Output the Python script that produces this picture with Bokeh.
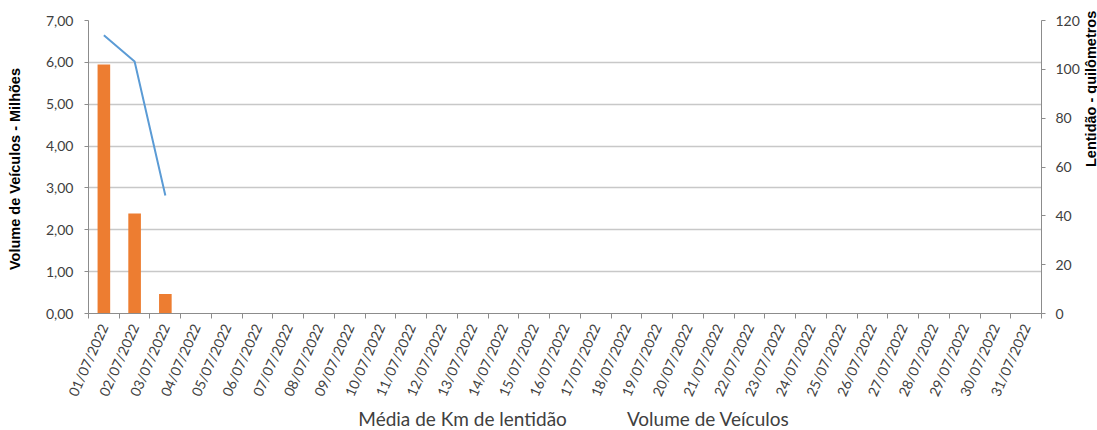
import math
from bokeh.plotting import figure
from bokeh.layouts import column
from bokeh.models import (FactorRange, Range1d, LinearAxis, FixedTicker,
                          CustomJSTickFormatter, Legend, LegendItem)
from bokeh.embed import file_html
from bokeh.resources import INLINE

# ---- data ----
datas = ["01/07/2022", "02/07/2022", "03/07/2022", "04/07/2022", "05/07/2022",
         "06/07/2022", "07/07/2022", "08/07/2022", "09/07/2022", "10/07/2022",
         "11/07/2022", "12/07/2022", "13/07/2022", "14/07/2022", "15/07/2022",
         "16/07/2022", "17/07/2022", "18/07/2022", "19/07/2022", "20/07/2022",
         "21/07/2022", "22/07/2022", "23/07/2022", "24/07/2022", "25/07/2022",
         "26/07/2022", "27/07/2022", "28/07/2022", "29/07/2022", "30/07/2022",
         "31/07/2022"]
dias_com_dados = ["01/07/2022", "02/07/2022", "03/07/2022"]
lentidao_km = [102, 41, 8]              # Média de Km de lentidão (eixo direito)
volume_milhoes = [6.65, 6.02, 2.82]     # Volume de Veículos (eixo esquerdo)
ticks_esq = [0, 1, 2, 3, 4, 5, 6, 7]
ticks_dir = [0, 20, 40, 60, 80, 100, 120]
serie_barras = "Média de Km de lentidão"
serie_linha = "Volume de Veículos"

LARANJA = "#ED7D31"
AZUL = "#5B9BD5"
TXT = "#404040"
FONT = "Lato"
TITLE_FONT = "Liberation Sans"

p = figure(frame_width=953, frame_height=293,
           x_range=FactorRange(factors=datas),
           y_range=Range1d(0, 7),
           x_axis_type=None,
           output_backend="svg", toolbar_location=None,
           min_border_left=88, min_border_right=56,
           min_border_top=20, min_border_bottom=0)
p.outline_line_color = None
p.background_fill_color = "white"

# left axis
ya = p.yaxis[0]
ya.ticker = FixedTicker(ticks=ticks_esq)
ya.formatter = CustomJSTickFormatter(code="return tick.toFixed(2).replace('.', ',');")
ya.axis_label = "Volume de Veículos  - Milhões"
ya.axis_label_text_font = TITLE_FONT
ya.axis_label_text_font_style = "bold"
ya.axis_label_text_font_size = "14.5px"
ya.axis_label_text_color = "black"
ya.axis_label_standoff = 20
ya.major_label_text_font = FONT
ya.major_label_text_font_size = "14px"
ya.major_label_text_color = TXT
ya.major_label_standoff = 11
ya.axis_line_color = "#8C8C8C"
ya.major_tick_line_color = "#8C8C8C"
ya.major_tick_out = 4
ya.major_tick_in = 0
ya.minor_tick_line_color = None

p.ygrid.grid_line_color = "#C8C8C8"
p.ygrid.grid_line_width = 1.5

# right axis
p.extra_y_ranges = {"km": Range1d(0, 120)}
ra = LinearAxis(y_range_name="km", ticker=FixedTicker(ticks=ticks_dir))
ra.axis_label = "Lentidão - quilômetros"
ra.axis_label_text_font = TITLE_FONT
ra.axis_label_text_font_style = "bold"
ra.axis_label_text_font_size = "14.5px"
ra.axis_label_text_color = "black"
ra.axis_label_standoff = 8
ra.major_label_text_font = FONT
ra.major_label_text_font_size = "14px"
ra.major_label_text_color = TXT
ra.major_label_standoff = 10
ra.axis_line_color = "#8C8C8C"
ra.major_tick_line_color = "#8C8C8C"
ra.major_tick_out = 4
ra.major_tick_in = 0
ra.minor_tick_line_color = None
ra.axis_label_orientation = math.pi / 2
p.add_layout(ra, "right")

# x axis (labels at category centres, tick marks at category boundaries)
centros = [i + 0.5 for i in range(len(datas))]
limites = list(range(len(datas) + 1))
xa = LinearAxis(ticker=FixedTicker(ticks=centros, minor_ticks=limites),
                formatter=CustomJSTickFormatter(args=dict(d=datas),
                                                code="return d[Math.floor(tick)];"))
xa.major_label_orientation = 1.15
xa.major_label_text_font = FONT
xa.major_label_text_font_size = "14px"
xa.major_label_text_color = TXT
xa.major_label_standoff = 6
xa.major_tick_line_color = None
xa.major_tick_out = 0
xa.major_tick_in = 0
xa.minor_tick_line_color = "#8C8C8C"
xa.minor_tick_out = 5
xa.minor_tick_in = 0
xa.axis_line_color = "#8C8C8C"
p.add_layout(xa, "below")

p.vbar(x=dias_com_dados, top=lentidao_km, width=0.41, y_range_name="km",
       fill_color=LARANJA, line_color=None)
p.line(x=dias_com_dados, y=volume_milhoes, line_color=AZUL, line_width=2)

# ---- legend strip below the chart ----
lg = figure(width=1097, height=26, x_range=Range1d(0, 1), y_range=Range1d(0, 1),
            x_axis_type=None, y_axis_type=None,
            output_backend="svg", toolbar_location=None,
            min_border_left=0, min_border_right=0, min_border_top=0, min_border_bottom=0)
lg.outline_line_color = None
lg.xgrid.visible = False
lg.ygrid.visible = False
r_bar = lg.vbar(x=[], top=[], width=0.4, fill_color=LARANJA, line_color=None)
r_lin = lg.line(x=[], y=[], line_color=AZUL, line_width=2)
leg = Legend(items=[LegendItem(label=serie_barras, renderers=[r_bar]),
                    LegendItem(label=serie_linha, renderers=[r_lin])],
             orientation="horizontal", location="center")
leg.label_text_font = FONT
leg.label_text_font_size = "19px"
leg.label_text_color = TXT
leg.glyph_width = 28
leg.glyph_height = 12
leg.label_height = 18
leg.label_standoff = 2
leg.spacing = 30
leg.padding = 0
leg.margin = 0
leg.border_line_color = None
leg.background_fill_alpha = 0
lg.add_layout(leg, "center")

layout = column(p, lg, spacing=0)
open("out.html", "w").write(file_html(layout, INLINE))
